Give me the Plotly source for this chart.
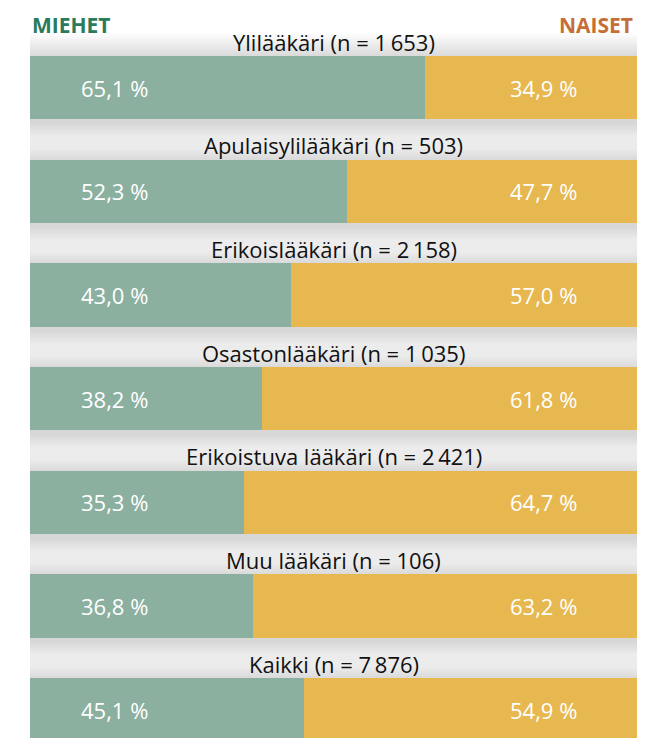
import plotly.graph_objects as go

categories = ["Ylilääkäri", "Apulaisylilääkäri", "Erikoislääkäri", "Osastonlääkäri",
              "Erikoistuva lääkäri", "Muu lääkäri", "Kaikki"]
n_values = ["1\u2009653", "503", "2\u2009158", "1\u2009035", "2\u2009421", "106", "7\u2009876"]
miehet = [65.1, 52.3, 43.0, 38.2, 35.3, 36.8, 45.1]
naiset = [34.9, 47.7, 57.0, 61.8, 64.7, 63.2, 54.9]

GREEN = "#8BB09F"
YELLOW = "#E6B84F"
FONT = "Open Sans"
BAR_W = 0.61
PX_PER_UNIT = 103.7
PX_PER_PCT = 6.07

fig = go.Figure()
fig.add_trace(go.Bar(y=categories, x=miehet, orientation="h", marker_color=GREEN,
                     marker_line_width=0, width=BAR_W, name="Miehet", hoverinfo="skip"))
fig.add_trace(go.Bar(y=categories, x=naiset, orientation="h", marker_color=YELLOW,
                     marker_line_width=0, width=BAR_W, name="Naiset", hoverinfo="skip"))

# soft drop shadow behind each bar
shapes = []
for i in range(len(categories)):
    for k in range(1, 11):
        p = 2.5 * k
        pad = p / PX_PER_UNIT
        off = 3 / PX_PER_UNIT
        shapes.append(dict(type="rect", layer="below", xref="x", yref="y",
                           x0=-0.4 * p / PX_PER_PCT, x1=100 + 0.7 * p / PX_PER_PCT,
                           y0=i - BAR_W / 2 - pad + off, y1=i + BAR_W / 2 + pad + off,
                           line_width=0, fillcolor="rgba(0,0,0,0.015)"))

fmt = lambda v: f"{v:.1f}".replace(".", ",") + " %"
ann = []
for c, n, m, w in zip(categories, n_values, miehet, naiset):
    ann.append(dict(x=50, y=c, xref="x", yref="y", yshift=46, text=f"{c} (n = {n})",
                    showarrow=False, font=dict(family=FONT, size=22, color="#111111"),
                    xanchor="center", yanchor="middle"))
    ann.append(dict(x=0, y=c, xref="x", yref="y", xshift=49, text=fmt(m),
                    showarrow=False, font=dict(family=FONT, size=22, color="white"),
                    xanchor="left", yanchor="middle"))
    ann.append(dict(x=100, y=c, xref="x", yref="y", xshift=-58, text=fmt(w),
                    showarrow=False, font=dict(family=FONT, size=22, color="white"),
                    xanchor="right", yanchor="middle"))
ann.append(dict(x=0, y=1, xref="paper", yref="paper", yshift=-25, text="<b>MIEHET</b>",
                showarrow=False, font=dict(family=FONT, size=21, color="#2A7A5C"),
                xanchor="left", yanchor="middle"))
ann.append(dict(x=1, y=1, xref="paper", yref="paper", xshift=-2, yshift=-25, text="<b>NAISET</b>",
                showarrow=False, font=dict(family=FONT, size=21, color="#C66E38"),
                xanchor="right", yanchor="middle"))

fig.update_layout(
    barmode="stack", width=669, height=738, showlegend=False,
    margin=dict(l=30, r=32, t=0, b=0),
    paper_bgcolor="white", plot_bgcolor="rgba(0,0,0,0)",
    xaxis=dict(range=[0, 100], visible=False, fixedrange=True),
    yaxis=dict(categoryorder="array", categoryarray=categories, range=[6.273, -0.844],
               visible=False, fixedrange=True),
    annotations=ann, shapes=shapes, bargap=0,
)
fig.write_html("out.html", config={"displayModeBar": False},
               post_script="document.body.style.margin='0';document.body.style.overflow='hidden';")
